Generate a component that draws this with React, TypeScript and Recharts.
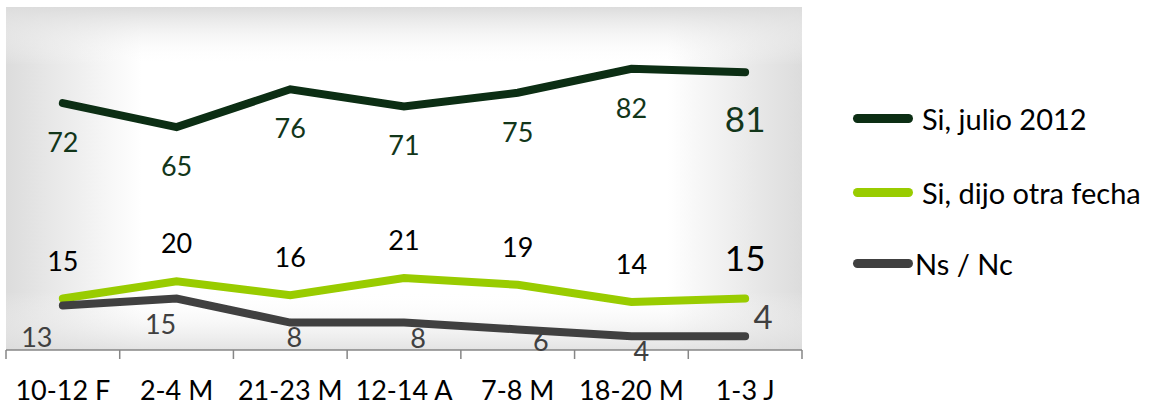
import React from 'react';
import { ComposedChart, Line, XAxis, YAxis, CartesianGrid, LabelList } from 'recharts';

const categories = ['10-12 F', '2-4 M', '21-23 M', '12-14 A', '7-8 M', '18-20 M', '1-3 J'];
const siJulio = [72, 65, 76, 71, 75, 82, 81];
const siOtraFecha = [15, 20, 16, 21, 19, 14, 15];
const nsNc = [13, 15, 8, 8, 6, 4, 4];
const seriesNames = ['Si, julio 2012', 'Si, dijo otra fecha', 'Ns / Nc'];
const seriesColors = ['#0c2e14', '#99cc00', '#404040'];

// label offsets (style) for the Ns / Nc series, relative to the point
const nsLabelDx = [-26, -16, 4, 14, 23, 10, 18];
const nsLabelDy = [33, 26, 15, 16, 13, 16, -19];
// legend row centers (style)
const legendRowTop = [103, 177, 248];

const data = categories.map((c, i) => ({
  cat: c,
  a: siJulio[i],
  b: siOtraFecha[i],
  c: nsNc[i],
}));

const FONT = 'Lato, "Open Sans", sans-serif';
const LAST = categories.length - 1;
const HALF_BAND = 796 / 14;
const AXIS_COLOR = '#868686';

const LabelA = (p: any) => {
  const big = p.index === LAST;
  return (
    <text x={p.x} y={p.y + (big ? 60 : 49)} textAnchor="middle" fontSize={big ? 35 : 27} fill="#12361a" fontFamily={FONT}>
      {p.value}
    </text>
  );
};

const LabelB = (p: any) => {
  const big = p.index === LAST;
  return (
    <text x={p.x} y={p.y - 28} textAnchor="middle" fontSize={big ? 35 : 27} fill="#000000" fontFamily={FONT}>
      {p.value}
    </text>
  );
};

const LabelC = (p: any) => {
  const big = p.index === LAST;
  const i = p.index;
  return (
    <text x={p.x + nsLabelDx[i]} y={p.y + nsLabelDy[i] + (big ? 12 : 9)} textAnchor="middle" fontSize={big ? 33 : 27} fill="#404040" fontFamily={FONT}>
      {p.value}
    </text>
  );
};

const CatTick = (p: any) => (
  <g>
    <line x1={p.x - HALF_BAND} x2={p.x - HALF_BAND} y1={p.y} y2={p.y + 9} stroke={AXIS_COLOR} strokeWidth={1.5} />
    {p.index === LAST && (
      <line x1={p.x + HALF_BAND} x2={p.x + HALF_BAND} y1={p.y} y2={p.y + 9} stroke={AXIS_COLOR} strokeWidth={1.5} />
    )}
    <text x={p.x} y={p.y + 50} textAnchor="middle" fontSize={27} fill="#000000" fontFamily={FONT}>
      {p.payload.value}
    </text>
  </g>
);

export default function App() {
  return (
    <div style={{ position: 'absolute', left: 0, top: 0, width: 1155, height: 407, background: '#ffffff' }}>
      <ComposedChart width={1155} height={407} data={data} margin={{ top: 7, right: 353, left: 6, bottom: 0 }}>
        <defs>
          <linearGradient id="bgx" x1="0" y1="0" x2="1" y2="0">
            <stop offset="0" stopColor="#dcdcdc" />
            <stop offset="0.17" stopColor="#ffffff" />
            <stop offset="0.83" stopColor="#ffffff" />
            <stop offset="1" stopColor="#dcdcdc" />
          </linearGradient>
          <linearGradient id="bgy" x1="0" y1="0" x2="0" y2="1">
            <stop offset="0" stopColor="#dcdcdc" stopOpacity={1} />
            <stop offset="0.17" stopColor="#ffffff" stopOpacity={0} />
            <stop offset="0.83" stopColor="#ffffff" stopOpacity={0} />
            <stop offset="1" stopColor="#dcdcdc" stopOpacity={0.8} />
          </linearGradient>
        </defs>
        <CartesianGrid horizontal={false} vertical={false} fill="url(#bgx)" />
        <CartesianGrid horizontal={false} vertical={false} fill="url(#bgy)" />
        <XAxis
          dataKey="cat"
          axisLine={{ stroke: AXIS_COLOR, strokeWidth: 1.5 }}
          tickLine={false}
          tickSize={0}
          tickMargin={0}
          tick={<CatTick />}
          height={57}
          interval={0}
          padding={{ left: HALF_BAND, right: HALF_BAND }}
        />
        <YAxis hide domain={[0, 100]} />
        <Line dataKey="a" name={seriesNames[0]} stroke={seriesColors[0]} strokeWidth={8} strokeLinecap="round" dot={false} isAnimationActive={false}>
          <LabelList dataKey="a" content={<LabelA />} />
        </Line>
        <Line dataKey="b" name={seriesNames[1]} stroke={seriesColors[1]} strokeWidth={8} strokeLinecap="round" dot={false} isAnimationActive={false}>
          <LabelList dataKey="b" content={<LabelB />} />
        </Line>
        <Line dataKey="c" name={seriesNames[2]} stroke={seriesColors[2]} strokeWidth={8} strokeLinecap="round" dot={false} isAnimationActive={false}>
          <LabelList dataKey="c" content={<LabelC />} />
        </Line>
      </ComposedChart>
      {seriesNames.map((n, i) => (
        <div
          key={n}
          style={{
            position: 'absolute',
            left: 853,
            top: legendRowTop[i] - 3,
            height: 36,
            display: 'flex',
            alignItems: 'center',
            fontFamily: FONT,
            fontSize: 29,
            color: '#000',
          }}
        >
          <div style={{ width: 60, height: 9, borderRadius: 5, background: seriesColors[i], marginRight: i === 2 ? 2 : 9 }} />
          <span style={{ whiteSpace: 'nowrap' }}>{n}</span>
        </div>
      ))}
    </div>
  );
}
